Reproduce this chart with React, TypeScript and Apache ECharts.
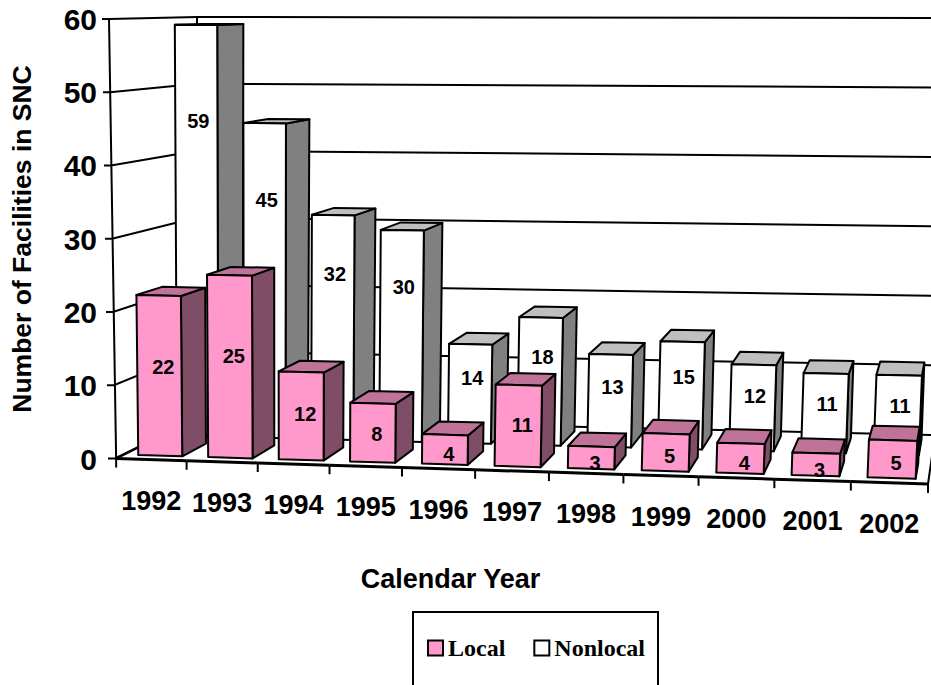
import React, { useEffect, useRef } from "react";
import * as echarts from "echarts";

const years = ["1992","1993","1994","1995","1996","1997","1998","1999","2000","2001","2002"];
const localValues = [22,25,12,8,4,11,3,5,4,3,5];
const nonlocalValues = [59,45,32,30,14,18,13,15,12,11,11];
const yTicks = [0,10,20,30,40,50,60];

const GRID = { left: 113, top: 19, width: 674, height: 440 };

type P = [number, number];
const mix = (a: P, b: P, k: number): P => [a[0]+(b[0]-a[0])*k, a[1]+(b[1]-a[1])*k];
// floor corners and the full-height (0 to 60) vector standing on each of them
const FL: P = [115,458.5], FR: P = [928,484], BR: P = [935,435], BL: P = [197,418];
const VFL: P = [-6,-439.5], VFR: P = [20,-457], VBR: P = [15,-417], VBL: P = [0,-401];
const warp = (u: number) => u-0.05*u*(1-u);
function project(u: number, d: number, t: number): P {
  const w = warp(u);
  const base = mix(mix(FL,FR,w), mix(BL,BR,w), d);
  const up = mix(mix(VFL,VFR,w), mix(VBL,VBR,w), d);
  return [base[0]+up[0]*t, base[1]+up[1]*t];
}
const toU = (x: number) => (x-GRID.left)/GRID.width;
const toT = (y: number) => (GRID.top+GRID.height-y)/GRID.height;

const FONT = "Liberation Sans, Arial, sans-serif";
const line = (points: P[], width = 2) => ({
  type: "polyline", silent: true, shape: { points },
  style: { stroke: "#000", lineWidth: width, fill: "none" },
});
const poly = (points: P[], fill: string) => ({
  type: "polygon", silent: true, shape: { points },
  style: { fill, stroke: "#000", lineWidth: 2, lineJoin: "round" },
});
const text = (s: string, p: P, fontSize: number) => ({
  type: "text", silent: true, x: p[0], y: p[1],
  style: { text: s, fill: "#000", fontSize, fontWeight: "bold", fontFamily: FONT, align: "center", verticalAlign: "middle" },
});

const bars = (row: { d0: number; d1: number; u0: number; u1: number; front: string; side: string; top: string; lift: number; base: number; shift: number }) =>
  (params: any, api: any) => {
    const i = api.value(0), v = api.value(1);
    const c = api.coord([i, v]);
    const band = api.size([1, 0])[0];
    const uc = toU(c[0]), ub = band/GRID.width;
    const u0 = uc+row.u0*ub, u1 = uc+row.u1*ub, t = toT(c[1]);
    const { d0, d1 } = row;
    const labelT = toT(api.coord([i, Math.max(row.lift*v-row.base, 0)])[1]);
    const lp = project((u0+u1)/2, d0, labelT);
    return {
      type: "group",
      children: [
        poly([project(u1,d0,0),project(u1,d1,0),project(u1,d1,t),project(u1,d0,t)], row.side),
        poly([project(u0,d0,t),project(u1,d0,t),project(u1,d1,t),project(u0,d1,t)], row.top),
        poly([project(u0,d0,0),project(u1,d0,0),project(u1,d0,t),project(u0,d0,t)], row.front),
        text(String(v), [lp[0]+row.shift, lp[1]], 20),
      ],
    };
  };

export default function App() {
  const ref = useRef<HTMLDivElement>(null);
  useEffect(() => {
    document.body.style.margin = "0";
    const chart = echarts.init(ref.current!, null, { renderer: "svg" });
    chart.setOption({
      animation: false,
      grid: { ...GRID },
      legend: {
        data: ["Local","Nonlocal"], left: 413, top: 612, orient: "horizontal", icon: "rect",
        padding: [24, 13, 70, 14], itemGap: 28, itemWidth: 15, itemHeight: 15,
        borderColor: "#000", borderWidth: 2, selectedMode: false,
        textStyle: { fontFamily: "Liberation Serif, serif", fontWeight: "bold", fontSize: 24, color: "#000" },
      },
      xAxis: {
        type: "category", data: years, name: "Calendar Year", nameLocation: "middle", nameGap: 106,
        nameTextStyle: { fontFamily: FONT, fontWeight: "bold", fontSize: 27, color: "#000" },
        axisLine: { show: false }, axisTick: { show: false }, axisLabel: { show: false }, splitLine: { show: false },
      },
      yAxis: {
        type: "value", min: 0, max: 60, interval: 10, name: "Number of Facilities in SNC",
        nameLocation: "middle", nameGap: 79, nameRotate: 90,
        nameTextStyle: { fontFamily: FONT, fontWeight: "bold", fontSize: 26.5, color: "#000" },
        axisLine: { show: false }, axisTick: { show: false }, splitLine: { show: false },
        axisLabel: { margin: 17, fontFamily: FONT, fontWeight: "bold", fontSize: 30, color: "#000", padding: [10,0,0,0] },
      },
      series: [
        {
          type: "custom", name: "frame", silent: true, z: 1, data: yTicks.map((v) => [0, v]),
          renderItem: (params: any, api: any) => {
            const t = toT(api.coord([0, api.value(1)])[1]);
            const a = project(0,0,t);
            return {
              type: "group",
              children: [
                line([[a[0]-7,a[1]], a, project(0,1,t), project(1,1,t)]),
              ],
            };
          },
        },
        {
          type: "custom", name: "axes", silent: true, z: 1, data: years.map((_, i) => [i, 0]),
          renderItem: (params: any, api: any) => {
            const i = api.value(0);
            const c = api.coord([i, 0]);
            const band = api.size([1,0])[0]/GRID.width;
            const uc = toU(c[0]);
            const p = project(uc+band/2, 0, 0);
            const m = project(uc, 0, 0);
            const children: any[] = [
              line([p, [p[0], p[1]+9]]),
              line([project(uc-band/2,0,0), p], 3),
              text(years[i], [m[0], m[1]+41], 27),
            ];
            if (i === 0) {
              const q = project(uc-band/2,0,0);
              children.push(line([q, [q[0], q[1]+9]]));
              children.push(line([q, project(0,0,1)]));
              children.push(line([q, project(0,1,0)]));
              children.push(line([project(0,1,0), project(0,1,1)]));
            }
            if (i === years.length-1) children.push(line([p, project(1,1,0)]));
            return { type: "group", children };
          },
        },
        {
          type: "custom", name: "Nonlocal", z: 2, itemStyle: { color: "#fff", borderColor: "#000", borderWidth: 2.5 },
          data: nonlocalValues.map((v, i) => [i, v]),
          renderItem: bars({ d0: 0.58, d1: 0.9, u0: -0.3, u1: 0.32, front: "#fff", side: "#808080", top: "#BFBFBF", lift: 0.8, base: 2, shift: 2 }),
        },
        {
          type: "custom", name: "Local", z: 3, itemStyle: { color: "#FF99CC", borderColor: "#000", borderWidth: 2.5 },
          data: localValues.map((v, i) => [i, v]),
          renderItem: bars({ d0: 0.1, d1: 0.41, u0: -0.3, u1: 0.33, front: "#FF99CC", side: "#804D66", top: "#BF7399", lift: 0.6, base: 1, shift: 4 }),
        },
      ],
    });
    return () => chart.dispose();
  }, []);
  return <div ref={ref} style={{ width: 931, height: 685 }} />;
}
